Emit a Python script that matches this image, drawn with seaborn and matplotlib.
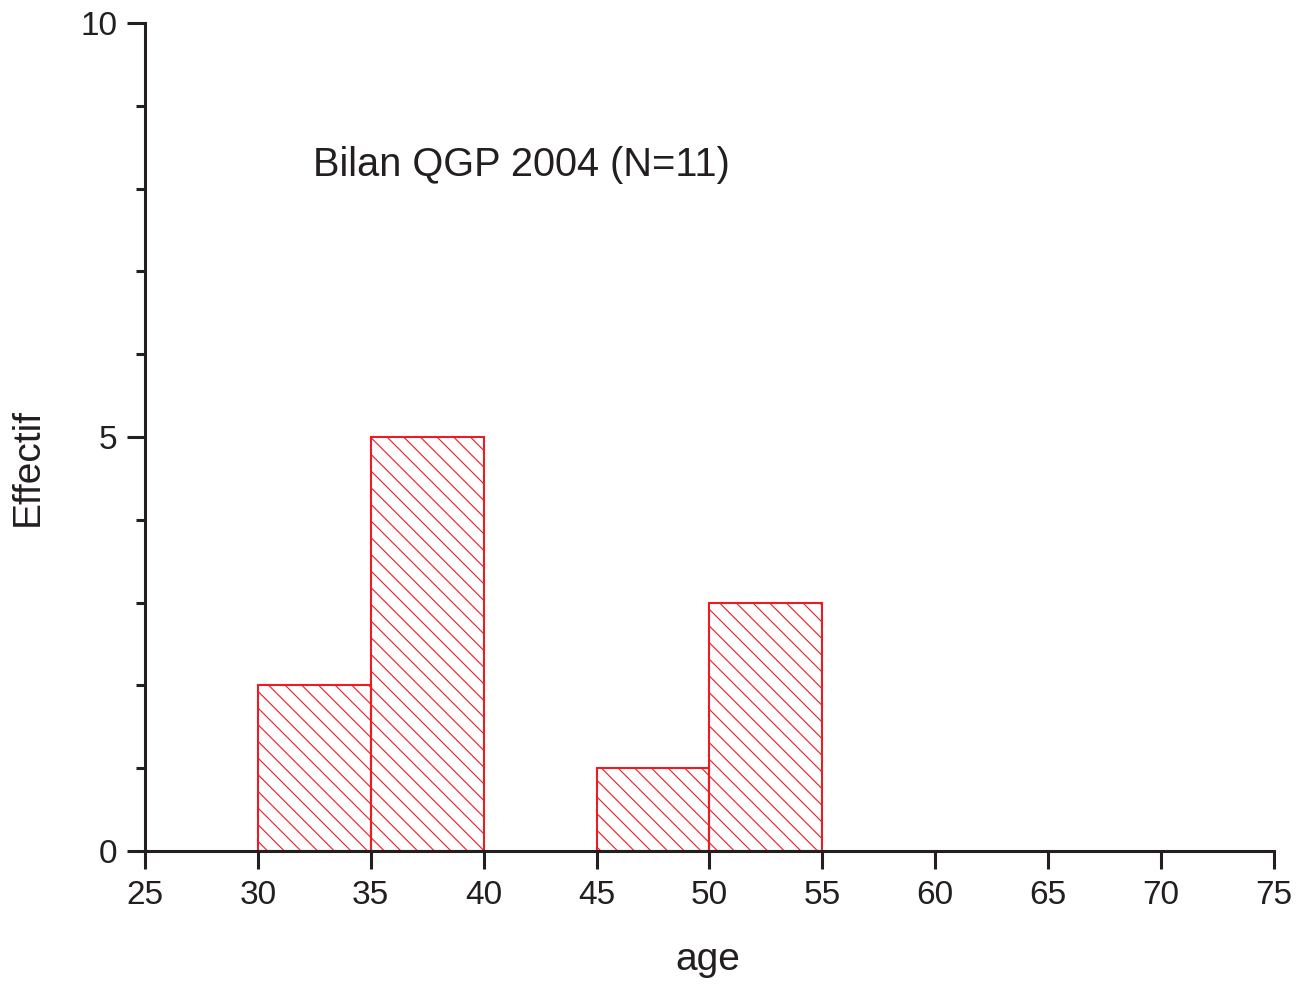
import matplotlib
matplotlib.use("Agg")
import matplotlib.pyplot as plt
import seaborn as sns
import pandas as pd
from matplotlib.ticker import MultipleLocator

# Data
bin_edges = [25, 30, 35, 40, 45, 50, 55, 60, 65, 70, 75]
bin_starts = [30, 35, 45, 50]
counts = [2, 5, 1, 3]
title_text = "Bilan QGP 2004 (N=11)"
x_label = "age"
y_label = "Effectif"

RED = "#ED1C24"
DARK = "#231F20"

sns.set_theme(style="white")
plt.rcParams['font.family'] = ['Liberation Sans', 'DejaVu Sans']
plt.rcParams['hatch.color'] = RED
plt.rcParams['hatch.linewidth'] = 0.8

df = pd.DataFrame({"age": [s + 2.5 for s in bin_starts], "n": counts})

fig = plt.figure(figsize=(13.1, 9.88), dpi=100)
ax = fig.add_axes([0.1107, 0.1387, 0.9725 - 0.1107, 0.9767 - 0.1387])

sns.histplot(data=df, x="age", weights="n", bins=bin_edges, ax=ax,
             fill=False, edgecolor=RED, linewidth=1.5)
for p in ax.patches:
    if p.get_height() > 0:
        p.set_hatch("\\\\")
        p.set_edgecolor(RED)
        p.set_facecolor("none")
        p.set_fill(True)
    else:
        p.set_visible(False)

ax.set_xlim(25, 75)
ax.set_ylim(0, 10)
ax.set_xticks(list(range(25, 80, 5)))
ax.set_yticks([0, 5, 10])
ax.yaxis.set_minor_locator(MultipleLocator(1))

for s in ["top", "right"]:
    ax.spines[s].set_visible(False)
for s in ["left", "bottom"]:
    ax.spines[s].set_linewidth(2.2)
    ax.spines[s].set_color(DARK)

ax.tick_params(axis="both", which="major", direction="out", length=13, width=2.2,
               color=DARK, labelsize=24, labelcolor=DARK)
ax.tick_params(axis="x", pad=8, bottom=True)
ax.tick_params(axis="y", pad=7, left=True)
ax.tick_params(axis="y", which="minor", direction="out", length=6.5, width=2.2,
               color=DARK, left=True)

ax.set_xlabel(x_label, fontsize=28, color=DARK, va="center")
ax.set_ylabel(y_label, fontsize=28, color=DARK, va="center")
ax.xaxis.set_label_coords((708 - 145) / 1129, (851 - 960) / 828)
ax.yaxis.set_label_coords((28 - 145) / 1129, (851 - 467) / 828)

ax.text(32.45, 8.28, title_text, fontsize=28.6, color=DARK, ha="left", va="center")

fig.savefig("out.png", dpi=100)
